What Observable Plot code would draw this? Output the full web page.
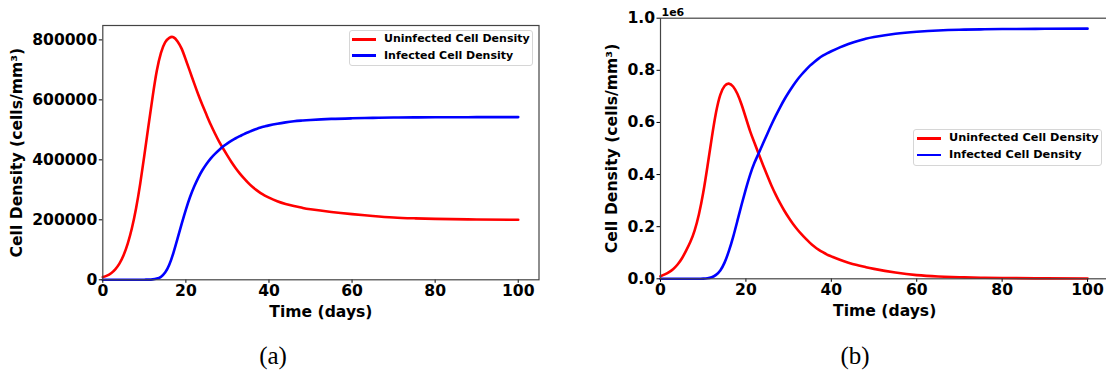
<!DOCTYPE html>
<html>
<head>
<meta charset="utf-8">
<script src="https://cdn.jsdelivr.net/npm/d3@7"></script>
<script src="https://cdn.jsdelivr.net/npm/@observablehq/plot@0.6"></script>
<style>
  html, body { margin: 0; padding: 0; background: #fff; }
  #root { position: relative; width: 1106px; height: 375px; overflow: hidden; background: #fff; }
  .panel { position: absolute; top: 0; }
  .legend { position: absolute; background: #fff; border: 1px solid #d6d6d6; border-radius: 3px;
            font-family: "DejaVu Sans", sans-serif; font-weight: bold; color: #000; box-sizing: border-box; }
  .legend .sw { position: absolute; height: 2.6px; }
  .legend .tx { position: absolute; line-height: 1; white-space: nowrap; }
  .caption { position: absolute; top: 342px; font-family: "Liberation Serif", "Times New Roman", serif;
             font-size: 25px; color: #000; transform: translateX(-50%); }
</style>
</head>
<body>
<div id="root"></div>
<script>
// ---------------- data ----------------
const seriesNames = ["Uninfected Cell Density", "Infected Cell Density"];
const seriesColors = ["#ff0000", "#0000ff"];

const days = [0, 1, 2, 3, 4, 5, 6, 7, 8, 9, 10, 11, 12, 13, 14, 15, 16, 17, 18, 19, 20,
              21, 22, 23, 24, 25, 26, 27, 28, 29, 30, 31, 32, 33, 34, 35, 36, 37, 38, 39, 40,
              42, 44, 46, 48, 50, 55, 60, 65, 70, 75, 80, 90, 100];

// Panel (a)
const uninfectedA = [9000, 14000, 22000, 35000, 54000, 82000, 121000, 172000, 238000, 320000, 415000,
                     514000, 611000, 697000, 757000, 792000, 807000, 809000, 795000, 770000, 733000,
                     694000, 655000, 617000, 582000, 549000, 517000, 488000, 461000, 437000, 414000,
                     392000, 372000, 354000, 338000, 323000, 310000, 299000, 289000, 281000, 274000,
                     262000, 253000, 246000, 240000, 235000, 226000, 219000, 213000, 208000, 205000,
                     203000, 201000, 200000];
const infectedA = [0, 0, 0, 0, 0, 0, 0, 0, 0, 100, 300,
                   700, 1500, 4000, 10000, 24000, 50000, 90000, 138000, 187000, 234000,
                   276000, 311000, 341000, 366000, 387000, 405000, 420000, 433000, 445000, 455000,
                   464000, 472000, 479000, 486000, 492000, 498000, 503000, 507500, 511500, 515000,
                   520500, 525000, 528500, 531000, 533000, 536500, 538500, 540000, 541000, 541700,
                   542000, 542300, 542500];
const yTicksA = [0, 200000, 400000, 600000, 800000];

// Panel (b)
const uninfectedB = [10000, 17000, 26000, 38000, 55000, 78000, 108000, 142000, 186000, 248000, 330000,
                     432000, 540000, 638000, 706000, 740000, 749000, 738000, 710000, 668000, 617000,
                     566000, 522000, 479000, 437000, 396000, 357000, 322000, 290000, 261000, 235000,
                     211000, 190000, 171000, 154000, 138000, 124000, 112000, 102000, 93000, 86000,
                     73000, 62000, 53000, 45000, 38000, 24000, 14000, 9000, 6000, 4000,
                     3000, 1500, 1000];
const infectedB = [0, 0, 0, 0, 0, 0, 0, 0, 0, 300, 800,
                   2000, 6000, 15000, 32000, 62000, 106000, 160000, 222000, 285000, 345000,
                   400000, 445000, 482000, 519000, 556000, 592000, 626000, 658000, 688000, 715000,
                   740000, 763000, 783000, 801000, 818000, 832000, 845000, 856000, 865000, 873000,
                   888000, 901000, 912000, 921000, 928000, 940500, 948000, 952800, 955600, 957300,
                   958400, 959400, 960000];
const yTicksB = [0, 200000, 400000, 600000, 800000, 1000000];

const xTicks = [0, 20, 40, 60, 80, 100];
const xLabel = "Time (days)";
const yLabel = "Cell Density (cells/mm³)";
const captions = ["(a)", "(b)"];

// ---------------- drawing ----------------
function rows(u, inf) {
  return [
    ...days.map((d, i) => ({day: d, value: u[i], series: seriesNames[0]})),
    ...days.map((d, i) => ({day: d, value: inf[i], series: seriesNames[1]}))
  ];
}

function panel(opts) {
  const data = rows(opts.u, opts.inf);
  const marks = [
    Plot.line(data, {x: "day", y: "value", z: "series", stroke: "series", strokeWidth: 2.6, curve: "natural"}),
    Plot.axisX({ticks: xTicks, tickSize: 3.5, tickPadding: 2, label: xLabel, labelAnchor: "center",
                labelArrow: "none", labelOffset: 37}),
    Plot.axisY({ticks: opts.yTicks, tickSize: 3.5, tickPadding: 2, tickFormat: opts.yFormat, label: yLabel,
                labelAnchor: "center", labelArrow: "none", labelOffset: opts.labelOffsetY}),
    Plot.frame({stroke: "#444", strokeWidth: 1.2})
  ];
  if (opts.extra) marks.push(...opts.extra);
  return Plot.plot({
    width: opts.width,
    height: 330,
    marginLeft: opts.marginLeft,
    marginRight: opts.marginRight,
    marginTop: opts.marginTop,
    marginBottom: opts.marginBottom,
    x: {domain: [0, 105]},
    y: {domain: opts.yDomain},
    color: {domain: seriesNames, range: seriesColors},
    style: {fontFamily: "DejaVu Sans, sans-serif", fontSize: "15.6px", fontWeight: "bold", color: "#000",
            background: "transparent", overflow: "visible"},
    marks
  });
}

const root = document.getElementById("root");

const pa = panel({
  u: uninfectedA, inf: infectedA, yTicks: yTicksA, yFormat: d3.format("d"),
  width: 560, marginLeft: 102.3, marginRight: 21.5, marginTop: 25, marginBottom: 50.7,
  yDomain: [0, 848000], labelOffsetY: 92
});
pa.classList.add("panel");
pa.style.left = "0px";
root.appendChild(pa);

const pb = panel({
  u: uninfectedB, inf: infectedB, yTicks: yTicksB, yFormat: d => (d / 1e6).toFixed(1),
  width: 560, marginLeft: 100, marginRight: 11.6, marginTop: 17.7, marginBottom: 51.7,
  yDomain: [0, 1000000], labelOffsetY: 55,
  extra: [Plot.text(["1e6"], {frameAnchor: "top-left", text: d => d, textAnchor: "start", lineAnchor: "bottom",
                              dx: 1, dy: -2, fontSize: 11, fontWeight: "bold"})]
});
pb.classList.add("panel");
pb.style.left = "560px";
root.appendChild(pb);

function legend(left, top, w, h, rowYs, lineX0, lineX1, textX, fs) {
  const el = document.createElement("div");
  el.className = "legend";
  el.style.left = left + "px"; el.style.top = top + "px";
  el.style.width = w + "px"; el.style.height = h + "px";
  seriesNames.forEach((name, i) => {
    const sw = document.createElement("div");
    sw.className = "sw";
    sw.style.background = seriesColors[i];
    sw.style.left = (lineX0 - left - 1) + "px";
    sw.style.width = (lineX1 - lineX0) + "px";
    sw.style.top = (rowYs[i] - top - 1 - 1.3) + "px";
    el.appendChild(sw);
    const tx = document.createElement("div");
    tx.className = "tx";
    tx.style.fontSize = fs + "px";
    tx.style.left = (textX - left - 1) + "px";
    tx.style.top = (rowYs[i] - top - 1 - fs * 0.55) + "px";
    tx.textContent = name;
    el.appendChild(tx);
  });
  root.appendChild(el);
}
legend(349, 30, 184, 36, [39.3, 55.7], 352, 376, 384, 11);
legend(913, 129, 189, 37, [138.3, 155], 917, 941, 949, 11.3);

[[273, captions[0]], [855, captions[1]]].forEach(([x, t]) => {
  const c = document.createElement("div");
  c.className = "caption";
  c.style.left = x + "px";
  c.textContent = t;
  root.appendChild(c);
});
</script>
</body>
</html>
